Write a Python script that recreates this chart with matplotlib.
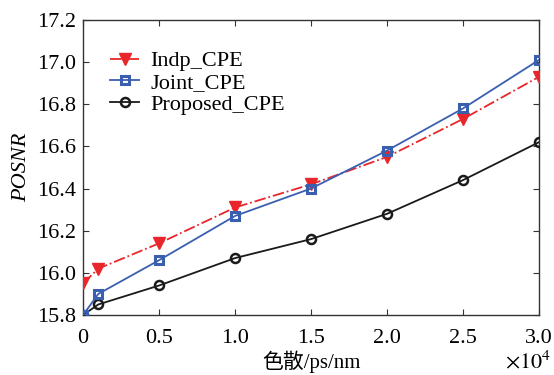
import matplotlib
matplotlib.use('Agg')
import matplotlib.pyplot as plt

plt.rcParams['font.family'] = ['Liberation Serif', 'Noto Sans CJK SC']
plt.rcParams['mathtext.fontset'] = 'stix'

# dispersion in units of 1e4 ps/nm
dispersion = [0, 0.1, 0.5, 1.0, 1.5, 2.0, 2.5, 3.0]
indp_cpe = [15.95, 16.02, 16.14, 16.31, 16.42, 16.55, 16.73, 16.93]
joint_cpe = [15.80, 15.90, 16.06, 16.27, 16.40, 16.58, 16.78, 17.01]
proposed_cpe = [15.80, 15.85, 15.94, 16.07, 16.16, 16.28, 16.44, 16.62]

xticks = [0, 0.5, 1.0, 1.5, 2.0, 2.5, 3.0]
xtick_labels = ['0', '0.5', '1.0', '1.5', '2.0', '2.5', '3.0']
yticks = [15.8, 16.0, 16.2, 16.4, 16.6, 16.8, 17.0, 17.2]

fig = plt.figure(figsize=(5.54, 3.75), dpi=100)
ax = fig.add_axes([0.150, 0.160, 0.823, 0.787])

ax.plot(dispersion, indp_cpe, color='#e8262b', linestyle='-.', linewidth=1.3,
        marker='v', markersize=8, markerfacecolor='#e8262b', markeredgecolor='#e8262b',
        label='Indp_CPE', zorder=3)
ax.plot(dispersion, joint_cpe, color='#3a5fb0', linestyle='-', linewidth=1.3,
        marker='s', markersize=5.5, markerfacecolor='none', markeredgecolor='#3a5fb0',
        markeredgewidth=2.2, label='Joint_CPE', zorder=4)
ax.plot(dispersion, proposed_cpe, color='#1a1a1a', linestyle='-', linewidth=1.3,
        marker='o', markersize=6.5, markerfacecolor='none', markeredgecolor='#1a1a1a',
        markeredgewidth=1.8, label='Proposed_CPE', zorder=3)

ax.set_xlim(0, 3.0)
ax.set_ylim(15.8, 17.2)
ax.set_xticks(xticks)
ax.set_xticklabels(xtick_labels)
ax.set_yticks(yticks)
ax.set_yticklabels([f'{v:.1f}' for v in yticks])
ax.tick_params(direction='in', top=True, right=True, labelsize=16, length=4,
               color='#333333', pad=5)
ax.tick_params(axis='x', pad=10)
for s in ax.spines.values():
    s.set_color('#333333')
    s.set_linewidth(1.0)

ax.set_ylabel('POSNR', fontsize=16, style='italic', labelpad=4)
ax.set_xlabel('色散/ps/nm', fontsize=15, labelpad=2)
fig.text(0.995, 0.005, r'$\times 10^4$', fontsize=16, ha='right', va='bottom')

ax.legend(loc='upper left', bbox_to_anchor=(0.04, 0.925), frameon=False, fontsize=16,
          handlelength=1.3, handletextpad=0.5, labelspacing=0.05, borderaxespad=0.0)

fig.savefig('out.png', dpi=100)
